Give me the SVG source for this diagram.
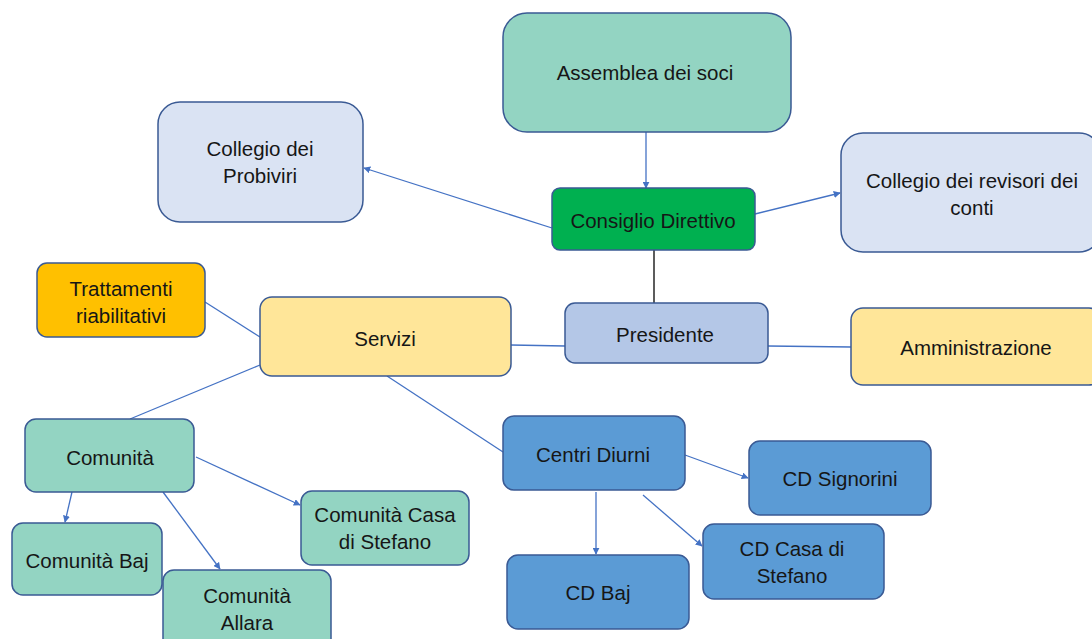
<svg xmlns="http://www.w3.org/2000/svg" width="1092" height="639" viewBox="0 0 1092 639">
<style>
.n{stroke:#3A5A94;stroke-width:1.5}
.t{font-family:"Liberation Sans",Arial,sans-serif;font-size:20.5px;fill:#161616;text-anchor:middle;dominant-baseline:central}
.c{stroke:#4472C4;stroke-width:1.3;fill:none}
.a{marker-end:url(#arr)}
</style>
<defs>
<marker id="arr" viewBox="0 0 10 10" refX="9" refY="5" markerWidth="7" markerHeight="7" orient="auto" markerUnits="userSpaceOnUse">
<path d="M0,0 L10,5 L0,10 z" fill="#4472C4"/>
</marker>
</defs>
<rect width="1092" height="639" fill="#ffffff"/>
<g id="connectors">
<line class="c a" x1="646" y1="132" x2="646" y2="188"/>
<line class="c a" x1="552" y1="228" x2="364" y2="168"/>
<line class="c a" x1="755" y1="214" x2="840" y2="193"/>
<line x1="654" y1="250" x2="654" y2="303" stroke="#262626" stroke-width="1.5"/>
<line class="c" x1="511" y1="345" x2="565" y2="346"/>
<line class="c" x1="768" y1="346" x2="851" y2="347"/>
<line class="c" x1="205" y1="302" x2="260" y2="337"/>
<line class="c" x1="260" y1="365" x2="130" y2="419"/>
<line class="c" x1="387" y1="376" x2="503" y2="452"/>
<line class="c a" x1="72" y1="492" x2="65" y2="522"/>
<line class="c a" x1="163" y1="492" x2="220" y2="569"/>
<line class="c a" x1="196" y1="457" x2="300" y2="505"/>
<line class="c a" x1="685" y1="455" x2="748" y2="478"/>
<line class="c a" x1="596" y1="492" x2="596" y2="554"/>
<line class="c a" x1="643" y1="495" x2="702" y2="546"/>
</g>
<g id="assemblea"><rect class="n" x="503" y="13" width="288" height="119" rx="24" fill="#93D4C2"/><text class="t" x="645" y="72">Assemblea dei soci</text></g>
<g id="consiglio"><rect class="n" x="552" y="188" width="203" height="62" rx="8" fill="#00B050"/><text class="t" x="653" y="220">Consiglio Direttivo</text></g>
<g id="probiviri"><rect class="n" x="158" y="102" width="205" height="120" rx="22" fill="#DAE3F3"/><text class="t" x="260" y="148">Collegio dei</text><text class="t" x="260" y="175">Probiviri</text></g>
<g id="revisori"><rect class="n" x="841" y="133" width="260" height="119" rx="22" fill="#DAE3F3"/><text class="t" x="972" y="180">Collegio dei revisori dei</text><text class="t" x="972" y="207">conti</text></g>
<g id="trattamenti"><rect class="n" x="37" y="263" width="168" height="74" rx="10" fill="#FFC000"/><text class="t" x="121" y="288">Trattamenti</text><text class="t" x="121" y="315">riabilitativi</text></g>
<g id="servizi"><rect class="n" x="260" y="297" width="251" height="79" rx="12" fill="#FFE699"/><text class="t" x="385" y="338">Servizi</text></g>
<g id="presidente"><rect class="n" x="565" y="303" width="203" height="60" rx="10" fill="#B4C7E7"/><text class="t" x="665" y="334">Presidente</text></g>
<g id="amministrazione"><rect class="n" x="851" y="308" width="250" height="77" rx="12" fill="#FFE699"/><text class="t" x="976" y="347">Amministrazione</text></g>
<g id="comunita"><rect class="n" x="25" y="419" width="169" height="73" rx="11" fill="#93D4C2"/><text class="t" x="110" y="457">Comunità</text></g>
<g id="comunita-baj"><rect class="n" x="12" y="523" width="150" height="72" rx="11" fill="#93D4C2"/><text class="t" x="87" y="560">Comunità Baj</text></g>
<g id="comunita-allara"><rect class="n" x="163" y="570" width="168" height="80" rx="11" fill="#93D4C2"/><text class="t" x="247" y="595">Comunità</text><text class="t" x="247" y="622">Allara</text></g>
<g id="comunita-casa"><rect class="n" x="301" y="491" width="168" height="74" rx="11" fill="#93D4C2"/><text class="t" x="385" y="514">Comunità Casa</text><text class="t" x="385" y="541">di Stefano</text></g>
<g id="centri-diurni"><rect class="n" x="503" y="416" width="182" height="74" rx="11" fill="#5B9BD5"/><text class="t" x="593" y="454">Centri Diurni</text></g>
<g id="cd-signorini"><rect class="n" x="749" y="441" width="182" height="74" rx="11" fill="#5B9BD5"/><text class="t" x="840" y="478">CD Signorini</text></g>
<g id="cd-casa"><rect class="n" x="703" y="524" width="181" height="75" rx="11" fill="#5B9BD5"/><text class="t" x="792" y="548">CD Casa di</text><text class="t" x="792" y="575">Stefano</text></g>
<g id="cd-baj"><rect class="n" x="507" y="555" width="182" height="74" rx="11" fill="#5B9BD5"/><text class="t" x="598" y="592">CD Baj</text></g>
</svg>
